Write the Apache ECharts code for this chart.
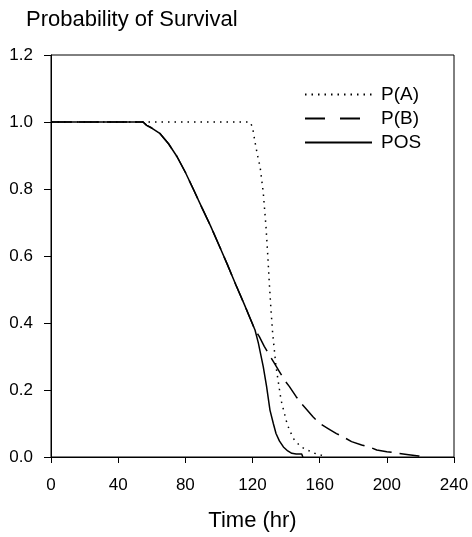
<!DOCTYPE html>
<html>
<head>
<meta charset="utf-8">
<script src="https://cdn.jsdelivr.net/npm/echarts@6/dist/echarts.min.js"></script>
<style>html,body{margin:0;padding:0;background:#fff}#c{width:472px;height:537px}</style>
</head>
<body>
<div id="c"></div>
<script>
// Data
var posTime = [0, 54.8, 57, 60, 65, 70, 75, 80, 85, 90, 95, 100, 105, 110, 115, 118.5, 121.5, 123.5, 126.4, 128.4, 130.4, 132.4, 134, 136, 138.4, 141, 143.4, 146, 149.3, 150];
var posVal  = [1, 1, 0.99, 0.982, 0.965, 0.935, 0.897, 0.85, 0.797, 0.743, 0.69, 0.633, 0.575, 0.515, 0.457, 0.415, 0.379, 0.34, 0.27, 0.21, 0.14, 0.1, 0.07, 0.048, 0.03, 0.018, 0.011, 0.009, 0.009, 0];

var paTime = [0, 118.5, 120, 121.5, 123, 124.5, 126.4, 128, 129, 130, 131, 132, 134, 137, 140, 142, 145, 149, 153, 157, 162, 163];
var paVal  = [1, 1, 0.985, 0.94, 0.9, 0.867, 0.79, 0.69, 0.61, 0.52, 0.44, 0.37, 0.27, 0.17, 0.11, 0.08, 0.05, 0.03, 0.02, 0.011, 0.004, 0];

var pbTime = [0, 54.8, 57, 60, 65, 70, 75, 80, 85, 90, 95, 100, 105, 110, 115, 118.5, 121.5, 124, 127, 130, 133, 136, 139, 142, 146, 149, 152, 156, 160, 165, 170, 174, 179, 185, 190, 194, 200, 207, 213, 219, 220];
var pbVal  = [1, 1, 0.99, 0.982, 0.965, 0.935, 0.897, 0.85, 0.797, 0.743, 0.69, 0.633, 0.575, 0.515, 0.457, 0.415, 0.379, 0.36, 0.33, 0.305, 0.28, 0.255, 0.23, 0.21, 0.18, 0.16, 0.143, 0.12, 0.10, 0.085, 0.07, 0.06, 0.046, 0.036, 0.029, 0.021, 0.016, 0.011, 0.007, 0.003, 0];

var xTicks = [0, 40, 80, 120, 160, 200, 240];
var yTicks = [0, 0.2, 0.4, 0.6, 0.8, 1.0, 1.2];

function pairs(t, v) { return t.map(function (x, i) { return [x, v[i]]; }); }

var FONT = 'Liberation Sans, Arial, sans-serif';
var chart = echarts.init(document.getElementById('c'), null, { renderer: 'canvas' });
chart.setOption({
  animation: false,
  backgroundColor: '#fff',
  title: {
    text: 'Probability of Survival',
    left: 26, top: 9, padding: 0,
    textStyle: { fontFamily: FONT, fontSize: 22, fontWeight: 'normal', color: '#000' }
  },
  legend: {
    orient: 'vertical',
    left: 304, top: 85,
    itemWidth: 67, itemHeight: 14, itemGap: 5,
    padding: 0,
    itemStyle: { opacity: 0 },
    textStyle: { fontFamily: FONT, fontSize: 19, color: '#000', padding: [0, 0, 0, 4] },
    data: [
      { name: 'P(A)' },
      { name: 'P(B)', lineStyle: { type: [20, 15] } },
      { name: 'POS' }
    ]
  },
  grid: {
    left: 51, right: 18, top: 55, bottom: 80,
    show: true, borderColor: '#000', borderWidth: 1, backgroundColor: 'transparent'
  },
  xAxis: {
    type: 'value', min: 0, max: 240, interval: 40,
    name: 'Time (hr)', nameLocation: 'middle', nameGap: 53,
    nameTextStyle: { fontFamily: FONT, fontSize: 22, color: '#000', verticalAlign: 'top' },
    axisLine: { show: true, lineStyle: { color: '#000', width: 1 } },
    axisTick: { show: true, inside: false, length: 6, lineStyle: { color: '#000' } },
    axisLabel: {
      margin: 20, fontFamily: FONT, fontSize: 17, color: '#000',
      formatter: function (v) { return String(v); }
    },
    splitLine: { show: false }
  },
  yAxis: {
    type: 'value', min: 0, max: 1.2, interval: 0.2,
    axisLine: { show: true, lineStyle: { color: '#000', width: 1 } },
    axisTick: { show: true, inside: false, length: 7, lineStyle: { color: '#000' } },
    axisLabel: {
      margin: 18, fontFamily: FONT, fontSize: 17, color: '#000',
      formatter: function (v) { return v.toFixed(1); }
    },
    splitLine: { show: false }
  },
  series: [
    {
      name: 'P(A)', type: 'line', symbol: 'none', z: 3,
      data: pairs(paTime, paVal),
      lineStyle: { color: '#000', width: 1.5, type: [1.5, 5] },
      itemStyle: { color: '#000' }
    },
    {
      name: 'P(B)', type: 'line', symbol: 'none', z: 2,
      data: pairs(pbTime, pbVal),
      lineStyle: { color: '#000', width: 1.5, type: [20, 8] },
      itemStyle: { color: '#000' }
    },
    {
      name: 'POS', type: 'line', symbol: 'none', z: 4,
      data: pairs(posTime, posVal),
      lineStyle: { color: '#000', width: 1.5, type: 'solid' },
      itemStyle: { color: '#000' }
    }
  ]
});
</script>
</body>
</html>
